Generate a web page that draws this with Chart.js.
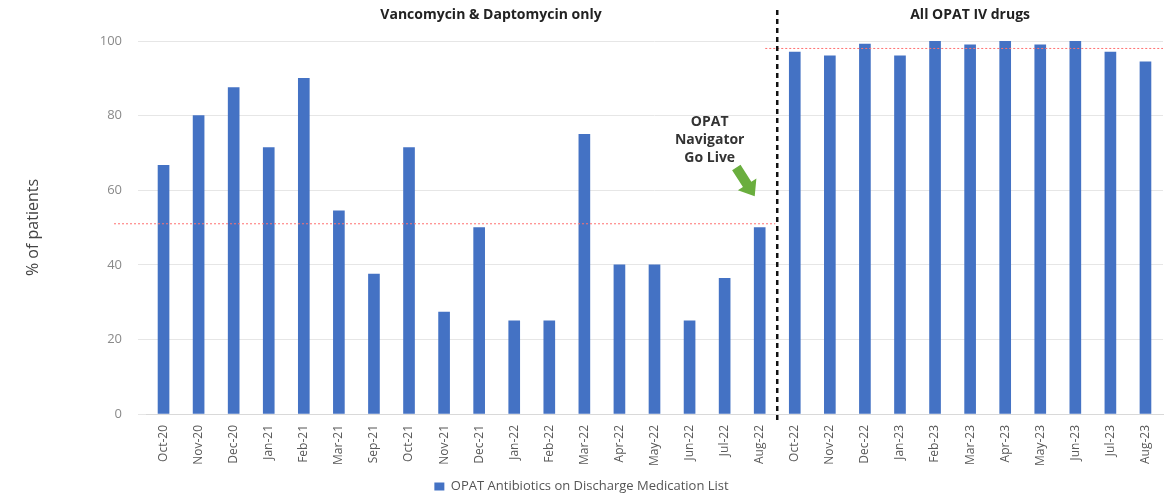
<!DOCTYPE html>
<html>
<head>
<meta charset="utf-8">
<script src="https://cdn.jsdelivr.net/npm/chart.js@4"></script>
<style>
  html, body { margin: 0; padding: 0; background: #fff; }
  #wrap { width: 1169px; height: 496px; position: relative; }
</style>
</head>
<body>
<div id="wrap"><canvas id="myChart" width="1169" height="496"></canvas></div>
<script>
// カテゴリ（月）
const months = [
  'Oct-20', 'Nov-20', 'Dec-20', 'Jan-21', 'Feb-21', 'Mar-21', 'Sep-21', 'Oct-21',
  'Nov-21', 'Dec-21', 'Jan-22', 'Feb-22', 'Mar-22', 'Apr-22', 'May-22', 'Jun-22',
  'Jul-22', 'Aug-22',
  'Oct-22', 'Nov-22', 'Dec-22', 'Jan-23', 'Feb-23', 'Mar-23', 'Apr-23', 'May-23',
  'Jun-23', 'Jul-23', 'Aug-23'
];

// % of patients
const percentPatients = [
  66.7, 80, 87.5, 71.4, 90, 54.5, 37.5, 71.4,
  27.3, 50, 25, 25, 75, 40, 40, 25,
  36.4, 50,
  97, 96, 99.2, 96, 100, 99, 100, 99,
  100, 97, 94.4
];

const yTicks = [0, 20, 40, 60, 80, 100];

// 目標ライン（赤い点線）
const targetBefore = 51;
const targetAfter = 98;

const sectionTitles = ['Vancomycin & Daptomycin only', 'All OPAT IV drugs'];
const firstAfterIndex = 18; // Oct-22 から All OPAT IV drugs
const goLiveText = ['OPAT', 'Navigator', 'Go Live'];

const FONT = "'Open Sans', 'Liberation Sans', sans-serif";

// 注釈を描くプラグイン
const annotations = {
  id: 'annotations',
  afterDatasetsDraw(chart) {
    const { ctx, chartArea, scales: { x, y } } = chart;
    const xSplit = (x.getPixelForValue(firstAfterIndex - 1) + x.getPixelForValue(firstAfterIndex)) / 2;

    ctx.save();
    // target lines
    ctx.strokeStyle = '#ff7070';
    ctx.lineWidth = 1;
    ctx.setLineDash([2, 2]);
    let yt = y.getPixelForValue(targetBefore);
    ctx.beginPath();
    ctx.moveTo(chartArea.left - 32, yt);
    ctx.lineTo(xSplit - 2, yt);
    ctx.stroke();
    yt = y.getPixelForValue(targetAfter);
    ctx.beginPath();
    ctx.moveTo(xSplit - 12, yt);
    ctx.lineTo(chartArea.right, yt);
    ctx.stroke();

    // divider
    ctx.strokeStyle = '#111';
    ctx.lineWidth = 2.5;
    ctx.setLineDash([5, 4]);
    ctx.beginPath();
    ctx.moveTo(xSplit, 10);
    ctx.lineTo(xSplit, chartArea.bottom + 6);
    ctx.stroke();
    ctx.setLineDash([]);

    // section titles
    ctx.fillStyle = '#222';
    ctx.font = 'bold 14px ' + FONT;
    ctx.textAlign = 'center';
    ctx.textBaseline = 'middle';
    ctx.fillText(sectionTitles[0], 491, 15);
    ctx.fillText(sectionTitles[1], (xSplit + chartArea.right) / 2 + 0, 15);

    // go live note
    const xAug = x.getPixelForValue(firstAfterIndex - 1);
    ctx.font = 'bold 14px ' + FONT;
    ctx.fillStyle = '#333';
    goLiveText.forEach((t, i) => ctx.fillText(t, xAug - 50, 122 + i * 18));

    // green arrow
    const tipX = xAug - 5, tipY = y.getPixelForValue(58.4);
    ctx.save();
    ctx.translate(tipX, tipY);
    ctx.rotate(Math.atan2(28, 18));
    ctx.fillStyle = '#6aae3e';
    ctx.beginPath();
    ctx.moveTo(0, 0);
    ctx.lineTo(-14, -11);
    ctx.lineTo(-14, -5);
    ctx.lineTo(-34, -5);
    ctx.lineTo(-34, 5);
    ctx.lineTo(-14, 5);
    ctx.lineTo(-14, 11);
    ctx.closePath();
    ctx.fill();
    ctx.restore();

    ctx.restore();
  }
};

const data = {
  labels: months,
  datasets: [{
    label: 'OPAT Antibiotics on Discharge Medication List',
    data: percentPatients,
    backgroundColor: '#4472C4',
    borderWidth: 0,
    barThickness: 11
  }]
};

const config = {
  type: 'bar',
  data: data,
  plugins: [annotations],
  options: {
    responsive: false,
    animation: false,
    layout: { padding: { top: 41, right: 6, left: 0, bottom: -7 } },
    plugins: {
      legend: {
        position: 'bottom',
        labels: {
          boxWidth: 10, boxHeight: 8, padding: 0,
          color: '#555', font: { size: 13, family: FONT }
        }
      },
      tooltip: { enabled: false }
    },
    scales: {
      x: {
        grid: { display: false },
        border: { color: '#d9d9d9' },
        ticks: {
          minRotation: 90, maxRotation: 90, autoSkip: false,
          color: '#595959', font: { size: 12, family: FONT }
        },
        afterFit(scale) { scale.height = 66; }
      },
      y: {
        min: 0, max: 100,
        afterBuildTicks(scale) { scale.ticks = yTicks.map(v => ({ value: v })); },
        grid: { color: '#e6e6e6' },
        border: { display: false },
        ticks: { color: '#8a8a8a', padding: 16, font: { size: 13, family: FONT } },
        title: {
          display: true, text: '% of patients', color: '#444',
          font: { size: 16, family: FONT }, padding: { top: 24, bottom: 0 }
        },
        afterFit(scale) { scale.width = 146; }
      }
    }
  }
};

const myChart = new Chart(document.getElementById('myChart'), config);
</script>
</body>
</html>
